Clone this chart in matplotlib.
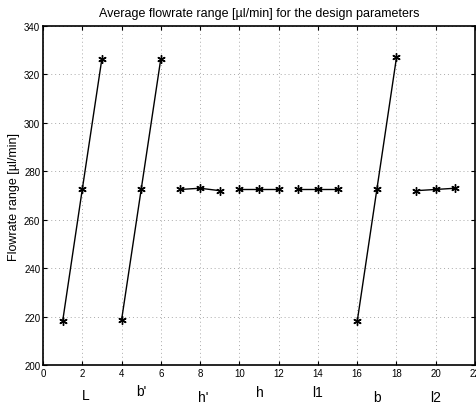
import matplotlib

matplotlib.use("Agg")
import matplotlib.pyplot as plt
import matplotlib.transforms as mtransforms

plt.rcParams["font.family"] = ["Liberation Sans", "DejaVu Sans"]

# parameter groups, three levels each
params = ["L", "b'", "h'", "h", "l1", "b", "l2"]
x_groups = [[1, 2, 3], [4, 5, 6], [7, 8, 9], [10, 11, 12], [13, 14, 15], [16, 17, 18], [19, 20, 21]]
flow_groups = [
    [218.0, 272.5, 326.5],
    [218.5, 272.5, 326.5],
    [272.5, 273.0, 272.0],
    [272.5, 272.5, 272.5],
    [272.5, 272.5, 272.5],
    [218.0, 272.5, 327.0],
    [272.0, 272.5, 273.0],
]
label_x = [2.2, 5.0, 8.15, 11.05, 14.0, 17.0, 20.0]
label_y = [-0.088, -0.078, -0.094, -0.08, -0.08, -0.094, -0.094]

fig = plt.figure(figsize=(4.76, 4.06), dpi=100)
ax = fig.add_axes([0.0903, 0.0985, 0.9077, 0.835])

for xs, ys in zip(x_groups, flow_groups):
    ax.plot(xs, ys, "k-", lw=1.0, marker=(6, 2, 0), ms=6, mew=1.0)

ax.set_xlim(0, 22)
ax.set_ylim(200, 340)
ax.set_xticks(range(0, 23, 2))
ax.set_yticks(range(200, 341, 20))
ax.tick_params(direction="in", length=3, width=0.8, labelsize=7, top=True, right=True, pad=2)
ax.grid(True, ls=(0, (1, 3)), color="#aaaaaa", lw=0.7)
for s in ax.spines.values():
    s.set_linewidth(1.2)

ax.set_ylabel("Flowrate range [\u00b5l/min]", fontsize=9, labelpad=3)
ax.set_title("Average flowrate range [\u00b5l/min] for the design parameters", fontsize=9, pad=7)

trans = mtransforms.blended_transform_factory(ax.transData, ax.transAxes)
for name, xp, yp in zip(params, label_x, label_y):
    ax.text(xp, yp, name, transform=trans, ha="center", va="center", fontsize=10)

fig.savefig("out.png", dpi=100)
